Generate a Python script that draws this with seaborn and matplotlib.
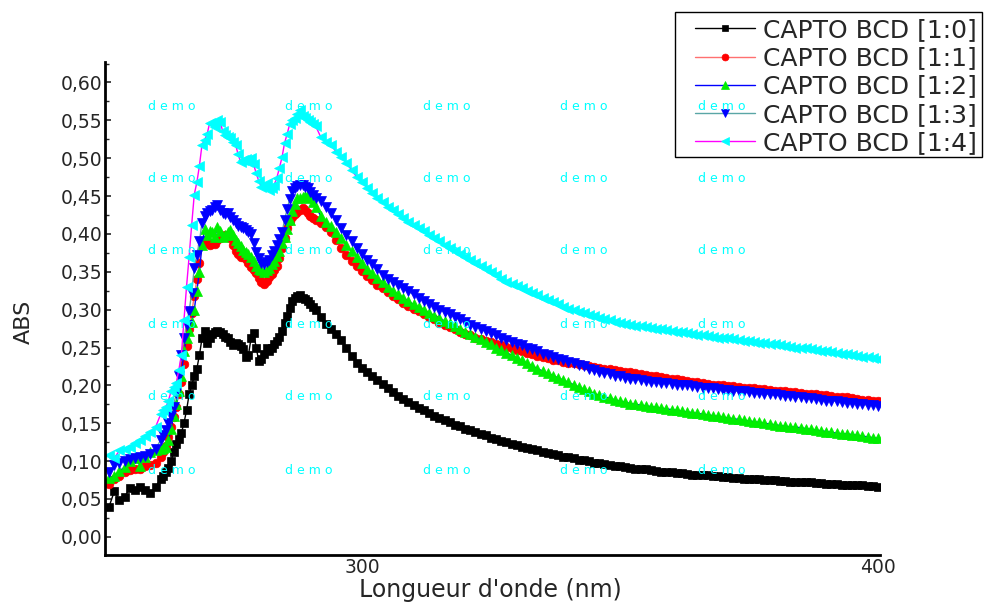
import numpy as np
import matplotlib
matplotlib.use("Agg")
import matplotlib.pyplot as plt
import seaborn as sns
from matplotlib.patches import Rectangle
from matplotlib.ticker import MultipleLocator, FixedLocator, FixedFormatter

# ---------------- data ----------------
wavelength = np.concatenate([np.arange(251, 261, 1.0),
                             np.arange(261, 291, 0.5),
                             np.arange(291, 401, 1.0)])

labels = ["CAPTO BCD [1:0]", "CAPTO BCD [1:1]", "CAPTO BCD [1:2]",
          "CAPTO BCD [1:3]", "CAPTO BCD [1:4]"]

abs_10_a = [0.040, 0.060, 0.048, 0.052, 0.065, 0.062, 0.066, 0.062, 0.058, 0.066]
abs_10_b = [0.076, 0.080, 0.086, 0.091, 0.100, 0.112, 0.122, 0.129, 0.137, 0.150,
            0.167, 0.188, 0.200, 0.212, 0.222, 0.240, 0.262, 0.272, 0.256, 0.262,
            0.268, 0.270, 0.272, 0.270, 0.268, 0.264, 0.262, 0.257, 0.253, 0.256,
            0.255, 0.252, 0.248, 0.238, 0.240, 0.262, 0.269, 0.250, 0.232, 0.235,
            0.242, 0.249, 0.246, 0.250, 0.254, 0.258, 0.264, 0.272, 0.282, 0.292,
            0.302, 0.312, 0.316, 0.318, 0.319, 0.316, 0.314, 0.312, 0.308, 0.304]
abs_10_c = [0.300, 0.290, 0.281, 0.274, 0.268, 0.260, 0.250, 0.239, 0.230, 0.223,
            0.217, 0.212, 0.207, 0.202, 0.196, 0.191, 0.186, 0.182, 0.178, 0.174,
            0.170, 0.167, 0.163, 0.160, 0.157, 0.154, 0.151, 0.148, 0.146, 0.143,
            0.141, 0.138, 0.136, 0.134, 0.131, 0.129, 0.127, 0.125, 0.123, 0.121,
            0.119, 0.117, 0.116, 0.114, 0.112, 0.111, 0.109, 0.108, 0.106, 0.105,
            0.104, 0.102, 0.101, 0.100, 0.098, 0.097, 0.096, 0.095, 0.094, 0.093,
            0.092, 0.091, 0.090, 0.089, 0.089, 0.088, 0.087, 0.086, 0.086, 0.085,
            0.084, 0.084, 0.083, 0.082, 0.082, 0.081, 0.081, 0.080, 0.080, 0.079,
            0.079, 0.078, 0.078, 0.077, 0.077, 0.076, 0.076, 0.075, 0.075, 0.075,
            0.074, 0.074, 0.073, 0.073, 0.072, 0.072, 0.072, 0.071, 0.071, 0.070,
            0.070, 0.070, 0.069, 0.069, 0.068, 0.068, 0.068, 0.067, 0.067, 0.066]

abs_11_a = [0.070, 0.076, 0.080, 0.086, 0.088, 0.090, 0.090, 0.093, 0.095, 0.098]
abs_11_b = [0.105, 0.112, 0.120, 0.132, 0.145, 0.158, 0.172, 0.188, 0.205, 0.228,
            0.252, 0.275, 0.296, 0.318, 0.340, 0.362, 0.385, 0.390, 0.389, 0.386,
            0.388, 0.387, 0.392, 0.395, 0.396, 0.398, 0.397, 0.395, 0.386, 0.378,
            0.374, 0.370, 0.369, 0.367, 0.362, 0.356, 0.352, 0.348, 0.342, 0.336,
            0.334, 0.338, 0.343, 0.347, 0.352, 0.357, 0.368, 0.382, 0.395, 0.408,
            0.417, 0.422, 0.426, 0.429, 0.431, 0.434, 0.432, 0.428, 0.424, 0.421]
abs_11_c = [0.418, 0.414, 0.409, 0.402, 0.392, 0.382, 0.372, 0.364, 0.357, 0.351,
            0.345, 0.339, 0.333, 0.328, 0.323, 0.318, 0.314, 0.309, 0.305, 0.301,
            0.298, 0.294, 0.290, 0.287, 0.283, 0.280, 0.277, 0.274, 0.271, 0.268,
            0.266, 0.263, 0.261, 0.259, 0.257, 0.255, 0.253, 0.251, 0.249, 0.247,
            0.245, 0.243, 0.241, 0.239, 0.237, 0.236, 0.234, 0.233, 0.231, 0.230,
            0.229, 0.228, 0.227, 0.225, 0.224, 0.223, 0.222, 0.221, 0.220, 0.219,
            0.218, 0.217, 0.216, 0.215, 0.214, 0.213, 0.212, 0.211, 0.210, 0.209,
            0.208, 0.207, 0.206, 0.205, 0.204, 0.203, 0.202, 0.201, 0.201, 0.200,
            0.199, 0.199, 0.198, 0.197, 0.197, 0.196, 0.195, 0.195, 0.194, 0.193,
            0.193, 0.192, 0.191, 0.191, 0.190, 0.189, 0.189, 0.188, 0.187, 0.187,
            0.186, 0.185, 0.184, 0.184, 0.183, 0.182, 0.181, 0.181, 0.180, 0.179]

abs_12_a = [0.078, 0.080, 0.087, 0.092, 0.100, 0.104, 0.094, 0.106, 0.112, 0.114]
abs_12_b = [0.116, 0.117, 0.119, 0.128, 0.142, 0.160, 0.176, 0.192, 0.212, 0.245,
            0.262, 0.272, 0.284, 0.300, 0.325, 0.350, 0.385, 0.406, 0.398, 0.404,
            0.402, 0.396, 0.409, 0.404, 0.396, 0.398, 0.403, 0.405, 0.398, 0.392,
            0.388, 0.384, 0.379, 0.376, 0.373, 0.370, 0.364, 0.357, 0.354, 0.352,
            0.350, 0.352, 0.355, 0.360, 0.364, 0.371, 0.378, 0.388, 0.396, 0.406,
            0.418, 0.430, 0.440, 0.447, 0.448, 0.449, 0.450, 0.451, 0.448, 0.442]
abs_12_c = [0.436, 0.424, 0.416, 0.410, 0.402, 0.394, 0.385, 0.377, 0.369, 0.361,
            0.354, 0.348, 0.342, 0.336, 0.330, 0.325, 0.320, 0.316, 0.311, 0.307,
            0.303, 0.299, 0.296, 0.292, 0.289, 0.285, 0.282, 0.278, 0.275, 0.271,
            0.268, 0.264, 0.261, 0.257, 0.254, 0.250, 0.247, 0.243, 0.240, 0.236,
            0.233, 0.229, 0.226, 0.222, 0.219, 0.216, 0.213, 0.210, 0.207, 0.204,
            0.201, 0.198, 0.195, 0.192, 0.189, 0.187, 0.185, 0.183, 0.181, 0.179,
            0.178, 0.176, 0.175, 0.174, 0.173, 0.172, 0.171, 0.170, 0.169, 0.168,
            0.167, 0.166, 0.165, 0.164, 0.163, 0.162, 0.161, 0.160, 0.159, 0.158,
            0.157, 0.156, 0.155, 0.154, 0.153, 0.152, 0.151, 0.150, 0.149, 0.148,
            0.147, 0.146, 0.145, 0.145, 0.144, 0.143, 0.142, 0.141, 0.140, 0.139,
            0.138, 0.137, 0.136, 0.136, 0.135, 0.134, 0.133, 0.132, 0.131, 0.130]

abs_13_a = [0.086, 0.095, 0.098, 0.100, 0.103, 0.104, 0.105, 0.107, 0.110, 0.116]
abs_13_b = [0.128, 0.134, 0.141, 0.150, 0.160, 0.172, 0.190, 0.212, 0.240, 0.262,
            0.280, 0.298, 0.322, 0.355, 0.372, 0.390, 0.415, 0.424, 0.428, 0.430,
            0.432, 0.436, 0.438, 0.432, 0.428, 0.426, 0.428, 0.422, 0.418, 0.414,
            0.411, 0.409, 0.408, 0.405, 0.403, 0.400, 0.388, 0.376, 0.368, 0.362,
            0.360, 0.363, 0.366, 0.372, 0.378, 0.385, 0.393, 0.402, 0.418, 0.433,
            0.446, 0.457, 0.461, 0.463, 0.464, 0.465, 0.462, 0.460, 0.455, 0.451]
abs_13_c = [0.448, 0.443, 0.435, 0.428, 0.418, 0.408, 0.398, 0.390, 0.382, 0.373,
            0.366, 0.360, 0.353, 0.346, 0.341, 0.336, 0.332, 0.328, 0.324, 0.320,
            0.316, 0.312, 0.308, 0.304, 0.300, 0.297, 0.294, 0.290, 0.287, 0.284,
            0.280, 0.277, 0.275, 0.272, 0.269, 0.266, 0.263, 0.260, 0.257, 0.255,
            0.253, 0.250, 0.248, 0.245, 0.242, 0.240, 0.238, 0.235, 0.233, 0.231,
            0.229, 0.227, 0.225, 0.222, 0.220, 0.218, 0.216, 0.215, 0.213, 0.212,
            0.210, 0.209, 0.208, 0.207, 0.206, 0.205, 0.204, 0.203, 0.203, 0.202,
            0.201, 0.200, 0.200, 0.199, 0.198, 0.197, 0.197, 0.196, 0.195, 0.194,
            0.194, 0.193, 0.192, 0.192, 0.191, 0.190, 0.190, 0.189, 0.188, 0.188,
            0.187, 0.186, 0.186, 0.185, 0.184, 0.183, 0.183, 0.182, 0.181, 0.180,
            0.180, 0.179, 0.178, 0.177, 0.177, 0.176, 0.175, 0.174, 0.174, 0.173]

abs_14_a = [0.108, 0.104, 0.114, 0.116, 0.119, 0.124, 0.128, 0.133, 0.138, 0.145]
abs_14_b = [0.162, 0.168, 0.171, 0.180, 0.192, 0.198, 0.203, 0.220, 0.240, 0.286,
            0.330, 0.370, 0.412, 0.452, 0.468, 0.490, 0.518, 0.524, 0.532, 0.547,
            0.545, 0.541, 0.550, 0.548, 0.536, 0.530, 0.528, 0.526, 0.522, 0.518,
            0.505, 0.495, 0.497, 0.499, 0.495, 0.500, 0.492, 0.480, 0.470, 0.462,
            0.463, 0.467, 0.458, 0.460, 0.465, 0.474, 0.487, 0.501, 0.520, 0.532,
            0.545, 0.550, 0.553, 0.558, 0.563, 0.556, 0.553, 0.551, 0.548, 0.545]
abs_14_c = [0.543, 0.528, 0.522, 0.518, 0.508, 0.501, 0.494, 0.484, 0.475, 0.468,
            0.461, 0.454, 0.448, 0.442, 0.436, 0.431, 0.426, 0.421, 0.416, 0.412,
            0.408, 0.404, 0.399, 0.395, 0.390, 0.386, 0.381, 0.378, 0.374, 0.370,
            0.366, 0.362, 0.358, 0.354, 0.350, 0.346, 0.341, 0.337, 0.334, 0.331,
            0.328, 0.325, 0.322, 0.319, 0.316, 0.313, 0.310, 0.307, 0.304, 0.301,
            0.299, 0.297, 0.295, 0.293, 0.291, 0.289, 0.287, 0.286, 0.284, 0.283,
            0.281, 0.280, 0.279, 0.278, 0.277, 0.276, 0.275, 0.274, 0.273, 0.272,
            0.271, 0.270, 0.269, 0.268, 0.267, 0.266, 0.265, 0.264, 0.263, 0.262,
            0.262, 0.261, 0.260, 0.259, 0.258, 0.257, 0.256, 0.256, 0.255, 0.254,
            0.253, 0.252, 0.251, 0.250, 0.250, 0.249, 0.248, 0.247, 0.246, 0.245,
            0.244, 0.243, 0.242, 0.241, 0.240, 0.239, 0.238, 0.237, 0.236, 0.235]

y_ticks = [0.00, 0.05, 0.10, 0.15, 0.20, 0.25, 0.30, 0.35, 0.40, 0.45, 0.50, 0.55, 0.60]
y_tick_labels = ["0,00", "0,05", "0,10", "0,15", "0,20", "0,25", "0,30",
                 "0,35", "0,40", "0,45", "0,50", "0,55", "0,60"]
x_ticks = [300, 400]
x_tick_labels = ["300", "400"]

series = [abs_10_a + abs_10_b + abs_10_c,
          abs_11_a + abs_11_b + abs_11_c,
          abs_12_a + abs_12_b + abs_12_c,
          abs_13_a + abs_13_b + abs_13_c,
          abs_14_a + abs_14_b + abs_14_c]
for s in series:
    assert len(s) == len(wavelength), len(s)

# ---------------- styling ----------------
sns.set_style("white")
plt.rcParams["font.family"] = ["DejaVu Sans"]

line_colors = ["#000000", "#ff7070", "#0000ff", "#5aa6a6", "#ff00ff"]
marker_colors = ["#000000", "#ff0000", "#00ee00", "#0000ff", "#00ffff"]
markers = ["s", "o", "^", "v", "<"]
msizes = [5.5, 6.2, 7.0, 7.0, 7.0]

fig = plt.figure(figsize=(9.84, 6.08), dpi=100)
ax = fig.add_axes([105 / 984, 53 / 608, 775 / 984, 493 / 608])

for vals, lab, lc, mc, mk, ms in zip(series, labels, line_colors, marker_colors, markers, msizes):
    sns.lineplot(x=wavelength, y=vals, ax=ax, color=lc, lw=1.0, marker=mk,
                 markersize=ms, markerfacecolor=mc, markeredgecolor=mc,
                 markeredgewidth=0.5, label=lab, errorbar=None, sort=False)

if ax.get_legend() is not None:
    ax.get_legend().remove()

ax.set_xlim(250.2, 400.4)
ax.set_ylim(-0.024, 0.627)

ax.xaxis.set_major_locator(FixedLocator(x_ticks))
ax.xaxis.set_major_formatter(FixedFormatter(x_tick_labels))
ax.yaxis.set_major_locator(FixedLocator(y_ticks))
ax.yaxis.set_major_formatter(FixedFormatter(y_tick_labels))
ax.yaxis.set_minor_locator(MultipleLocator(0.025))

ax.tick_params(axis="x", which="both", length=0, pad=2, labelsize=13.5)
ax.tick_params(axis="y", which="major", direction="in", length=4, width=1.2,
               pad=2, labelsize=13.5, left=True)
ax.tick_params(axis="y", which="minor", direction="in", length=3, width=1.0, left=True)

for side in ["top", "right"]:
    ax.spines[side].set_visible(False)
for side in ["left", "bottom"]:
    ax.spines[side].set_linewidth(2.0)
    ax.spines[side].set_color("black")

ax.set_xlabel("Longueur d'onde (nm)", fontsize=17)
ax.set_ylabel("ABS", fontsize=16)
ax.xaxis.set_label_coords(0.497, -0.047)
ax.yaxis.set_label_coords(-0.092, 0.473)

# legend with square frame
handles, labs = ax.get_legend_handles_labels()
frame = Rectangle((675 / 984, 1 - 157 / 608), 307 / 984, 145 / 608,
                  transform=fig.transFigure, facecolor="white",
                  edgecolor="black", linewidth=1.0, zorder=4)
fig.add_artist(frame)
leg = fig.legend(handles, labs, loc="upper left",
                 bbox_to_anchor=(695 / 984, 1 - 18 / 608), frameon=False,
                 fontsize=18, handlelength=2.4, handletextpad=0.32,
                 borderpad=0, borderaxespad=0, labelspacing=0.17,
                 numpoints=1, markerscale=0.8)
leg.set_zorder(5)

# demo watermark grid
wm_cols = [172, 309, 447, 584, 722]
wm_rows = [106, 179, 251, 324, 397, 470]
for yy in wm_rows:
    for xx in wm_cols:
        fig.text(xx / 984, 1 - yy / 608, "d e m o", color="#00ffff",
                 fontsize=9, ha="center", va="center", zorder=10)

fig.savefig("out.png", dpi=100)
